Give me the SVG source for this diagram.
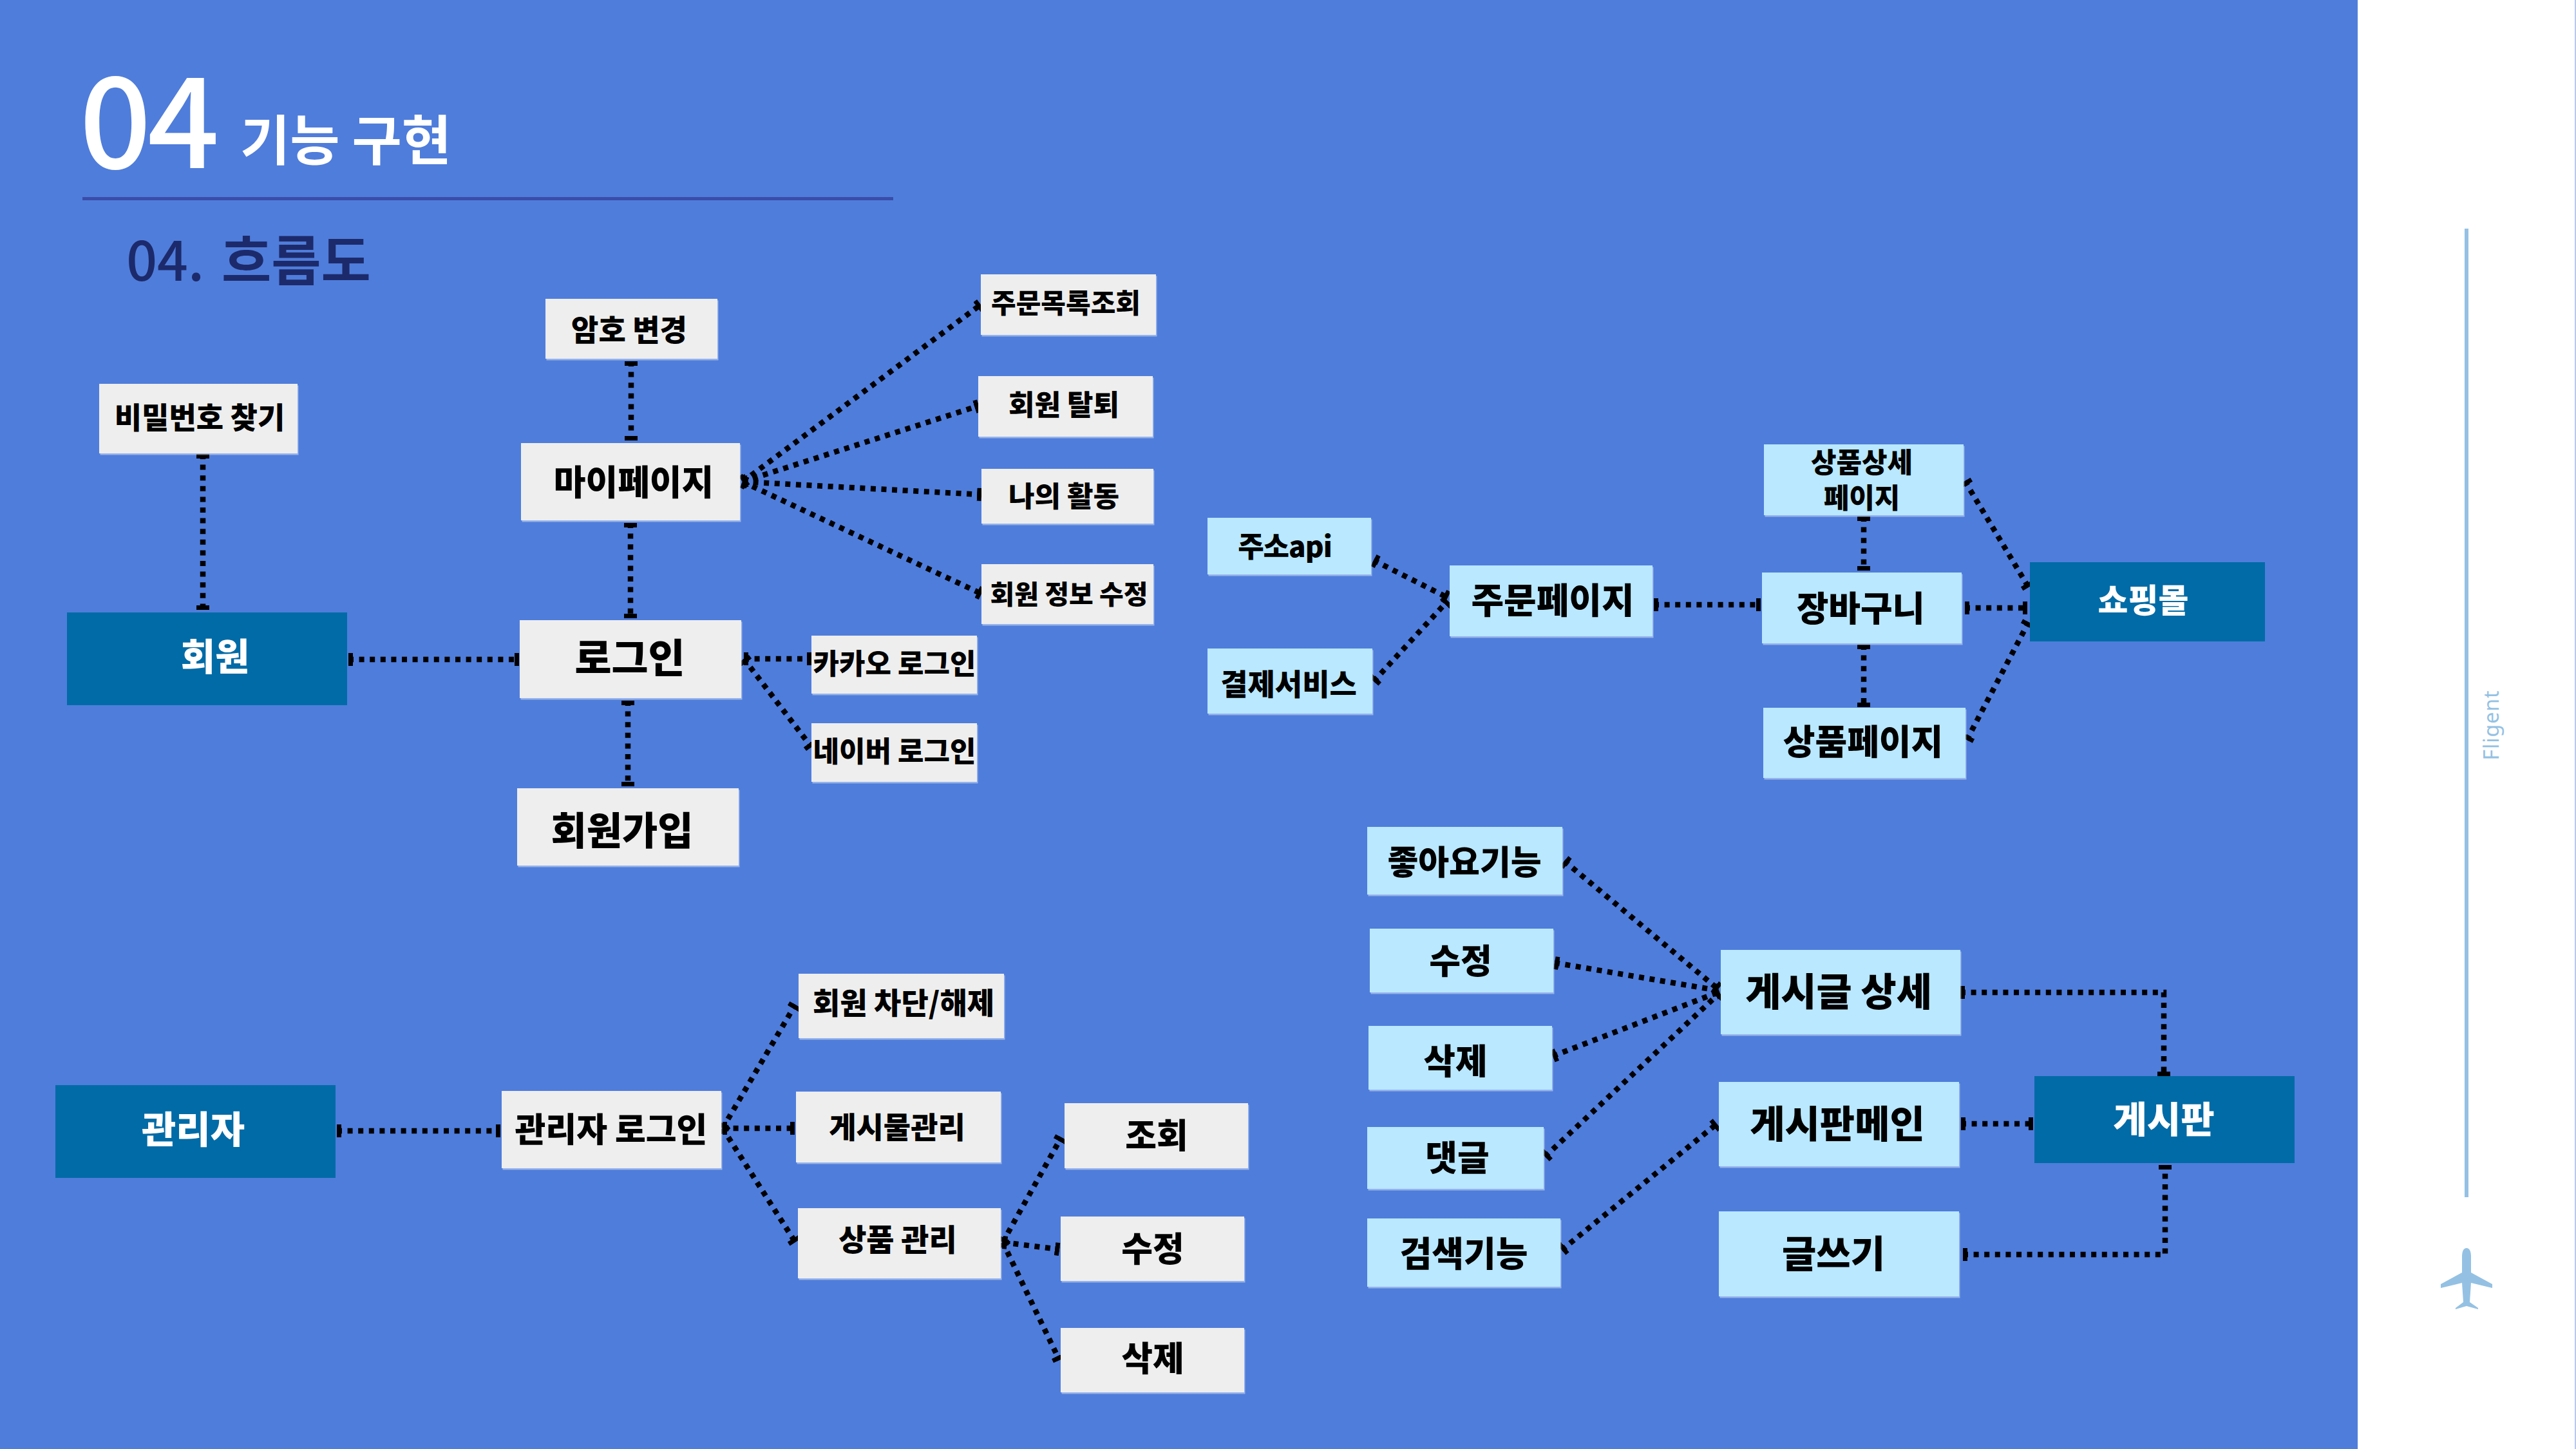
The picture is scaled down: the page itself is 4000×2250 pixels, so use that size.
<svg xmlns="http://www.w3.org/2000/svg" width="4000" height="2250" viewBox="0 0 4000 2250">
<style>
text{font-family:"Noto Sans CJK KR","Noto Sans",sans-serif;font-weight:900;text-anchor:middle;fill:#000}
.g{fill:#eeeeee;filter:url(#edge)}
.l{fill:#b9e8ff;filter:url(#edge)}
.d{fill:#006ba6}
.c{fill:none;stroke:#000;stroke-width:8.5;stroke-dasharray:8 8.6;marker-start:url(#tip);marker-end:url(#tip)}
</style>
<defs>
<filter id="edge" x="-5%" y="-5%" width="110%" height="110%"><feDropShadow dx="1.5" dy="2.5" stdDeviation="0" flood-color="#dfe8fa" flood-opacity="0.5"/></filter>
<marker id="tip" markerUnits="userSpaceOnUse" markerWidth="8" markerHeight="22" refX="7" refY="11" orient="auto-start-reverse"><rect x="0" y="1" width="7" height="20" fill="#000"/></marker>
</defs>
<rect width="4000" height="2250" fill="#fff"/>
<rect id="panel" width="3661" height="2250" fill="#4f7ddb"/>
<rect x="3998" width="2" height="2250" fill="#b8c9ee"/>
<text x="229" y="261" font-size="196" style="fill:#fff;font-weight:500;letter-spacing:-6px">04</text>
<text x="537" y="249" font-size="84" style="fill:#fff;font-weight:700">기능 구현</text>
<rect x="128" y="306" width="1259" height="5" fill="#3a4da8"/>
<text x="386" y="436" font-size="84" word-spacing="8" style="fill:#1c2a6b;font-weight:700"><tspan style="font-weight:500">04.</tspan> 흐름도</text>
<rect x="3827" y="355" width="6" height="1504" fill="#94c1e3"/>
<text transform="translate(3880 1126) rotate(-90)" font-size="32" style="fill:#94c1e3;font-weight:400;font-family:'Noto Sans',sans-serif;letter-spacing:1px">Fligent</text>
<path id="plane" d="M3823 1952Q3823 1938 3830 1938Q3837 1938 3837 1952V1976L3870 1994V2000L3837 1992L3835 2022L3848 2031V2033L3830 2028L3813 2033V2031L3825 2022L3823 1992L3790 2000V1994L3823 1976Z" fill="#94c1e3"/>
<g id="connectors">
<path class="c" d="M541 1024H806"/>
<path class="c" d="M315 705V947"/>
<path class="c" d="M980 561V684"/>
<path class="c" d="M979 812V960"/>
<path class="c" d="M975 1088V1221"/>
<path class="c" d="M1153 748L1523 473"/>
<path class="c" d="M1153 748L1520 630"/>
<path class="c" d="M1153 748L1524 768"/>
<path class="c" d="M1153 748L1524 922"/>
<path class="c" d="M1155 1023H1260"/>
<path class="c" d="M1155 1023L1260 1160"/>
<path class="c" d="M2133 870L2248 928"/>
<path class="c" d="M2133 1058L2248 933"/>
<path class="c" d="M2568 939H2734"/>
<path class="c" d="M3051 944H3148"/>
<path class="c" d="M3051 747L3150 912"/>
<path class="c" d="M3054 1149L3150 966"/>
<path class="c" d="M2894 802V886"/>
<path class="c" d="M2894 1001V1098"/>
<path class="c" d="M2429 1337L2668 1536"/>
<path class="c" d="M2414 1495L2668 1538"/>
<path class="c" d="M2411 1640L2670 1540"/>
<path class="c" d="M2399 1796L2670 1542"/>
<path class="c" d="M2425 1941L2666 1745"/>
<path class="c" d="M3044 1541H3360V1671"/>
<path class="c" d="M3045 1745H3157"/>
<path class="c" d="M3048 1948H3362V1809"/>
<path class="c" d="M523 1756H777"/>
<path class="c" d="M1122 1752L1235 1560"/>
<path class="c" d="M1122 1752H1234"/>
<path class="c" d="M1122 1752L1235 1929"/>
<path class="c" d="M1557 1929L1648 1766"/>
<path class="c" d="M1557 1929L1645 1940"/>
<path class="c" d="M1557 1929L1645 2112"/>
</g>
<g id="n-member"><rect class="d" x="104" y="951" width="435" height="144"/><text x="334" y="1041" font-size="58" style="fill:#fff">회원</text></g>
<g id="n-findpw"><rect class="g" x="154" y="596" width="308" height="108"/><text x="310" y="665" font-size="46">비밀번호 찾기</text></g>
<g id="n-chpw"><rect class="g" x="847" y="464" width="267" height="93"/><text x="977" y="529" font-size="46">암호 변경</text></g>
<g id="n-mypage"><rect class="g" x="809" y="688" width="340" height="120"/><text x="984" y="769" font-size="54">마이페이지</text></g>
<g id="n-login"><rect class="g" x="807" y="963" width="344" height="121"/><text x="978" y="1045" font-size="62">로그인</text></g>
<g id="n-signup"><rect class="g" x="803" y="1224" width="344" height="120"/><text x="966" y="1312" font-size="60">회원가입</text></g>
<g id="n-orders"><rect class="g" x="1523" y="426" width="272" height="94"/><text x="1655" y="486" font-size="42">주문목록조회</text></g>
<g id="n-leave"><rect class="g" x="1519" y="584" width="271" height="94"/><text x="1652" y="645" font-size="44">회원 탈퇴</text></g>
<g id="n-activity"><rect class="g" x="1524" y="728" width="267" height="85"/><text x="1652" y="787" font-size="44">나의 활동</text></g>
<g id="n-edit"><rect class="g" x="1524" y="876" width="267" height="93"/><text x="1660" y="938" font-size="41">회원 정보 수정</text></g>
<g id="n-kakao"><rect class="g" x="1260" y="987" width="257" height="90"/><text x="1389" y="1047" font-size="44">카카오 로그인</text></g>
<g id="n-naver"><rect class="g" x="1260" y="1123" width="257" height="91"/><text x="1389" y="1183" font-size="44">네이버 로그인</text></g>
<g id="n-addr"><rect class="l" x="1875" y="804" width="254" height="88"/><text x="1995" y="865" font-size="44" letter-spacing="-1">주소api</text></g>
<g id="n-pay"><rect class="l" x="1875" y="1007" width="256" height="101"/><text x="2001" y="1079" font-size="46">결제서비스</text></g>
<g id="n-order"><rect class="l" x="2251" y="878" width="315" height="110"/><text x="2411" y="952" font-size="55">주문페이지</text></g>
<g id="n-cart"><rect class="l" x="2736" y="889" width="310" height="110"/><text x="2889" y="965" font-size="54">장바구니</text></g>
<g id="n-detail"><rect class="l" x="2739" y="690" width="310" height="110"/><text font-size="43"><tspan x="2891" y="734">상품상세</tspan><tspan x="2891" y="789">페이지</tspan></text></g>
<g id="n-product"><rect class="l" x="2738" y="1099" width="314" height="109"/><text x="2893" y="1172" font-size="54">상품페이지</text></g>
<g id="n-shop"><rect class="d" x="3152" y="873" width="365" height="123"/><text x="3328" y="951" font-size="51" style="fill:#fff">쇼핑몰</text></g>
<g id="n-like"><rect class="l" x="2123" y="1284" width="303" height="105"/><text x="2274" y="1358" font-size="52">좋아요기능</text></g>
<g id="n-bedit"><rect class="l" x="2127" y="1442" width="285" height="99"/><text x="2268" y="1512" font-size="53">수정</text></g>
<g id="n-bdel"><rect class="l" x="2125" y="1593" width="285" height="99"/><text x="2260" y="1668" font-size="54">삭제</text></g>
<g id="n-reply"><rect class="l" x="2123" y="1750" width="274" height="96"/><text x="2263" y="1818" font-size="54">댓글</text></g>
<g id="n-search"><rect class="l" x="2123" y="1892" width="300" height="106"/><text x="2273" y="1967" font-size="54">검색기능</text></g>
<g id="n-post"><rect class="l" x="2672" y="1475" width="372" height="131"/><text x="2855" y="1562" font-size="60">게시글 상세</text></g>
<g id="n-bmain"><rect class="l" x="2669" y="1680" width="373" height="131"/><text x="2853" y="1767" font-size="59">게시판메인</text></g>
<g id="n-write"><rect class="l" x="2669" y="1881" width="373" height="132"/><text x="2847" y="1968" font-size="58">글쓰기</text></g>
<g id="n-board"><rect class="d" x="3159" y="1671" width="404" height="135"/><text x="3360" y="1759" font-size="57" style="fill:#fff">게시판</text></g>
<g id="n-admin"><rect class="d" x="86" y="1685" width="435" height="144"/><text x="300" y="1775" font-size="58" style="fill:#fff">관리자</text></g>
<g id="n-adlogin"><rect class="g" x="779" y="1694" width="341" height="120"/><text x="949" y="1773" font-size="52">관리자 로그인</text></g>
<g id="n-block"><rect class="g" x="1240" y="1512" width="319" height="100"/><text x="1403" y="1574" font-size="46">회원 차단/해제</text></g>
<g id="n-posts"><rect class="g" x="1236" y="1695" width="318" height="110"/><text x="1393" y="1767" font-size="46">게시물관리</text></g>
<g id="n-goods"><rect class="g" x="1239" y="1876" width="315" height="109"/><text x="1394" y="1942" font-size="47">상품 관리</text></g>
<g id="n-view"><rect class="g" x="1653" y="1713" width="285" height="101"/><text x="1796" y="1783" font-size="53">조회</text></g>
<g id="n-gedit"><rect class="g" x="1647" y="1889" width="285" height="100"/><text x="1790" y="1959" font-size="53">수정</text></g>
<g id="n-gdel"><rect class="g" x="1647" y="2062" width="285" height="100"/><text x="1790" y="2129" font-size="53">삭제</text></g>
</svg>
